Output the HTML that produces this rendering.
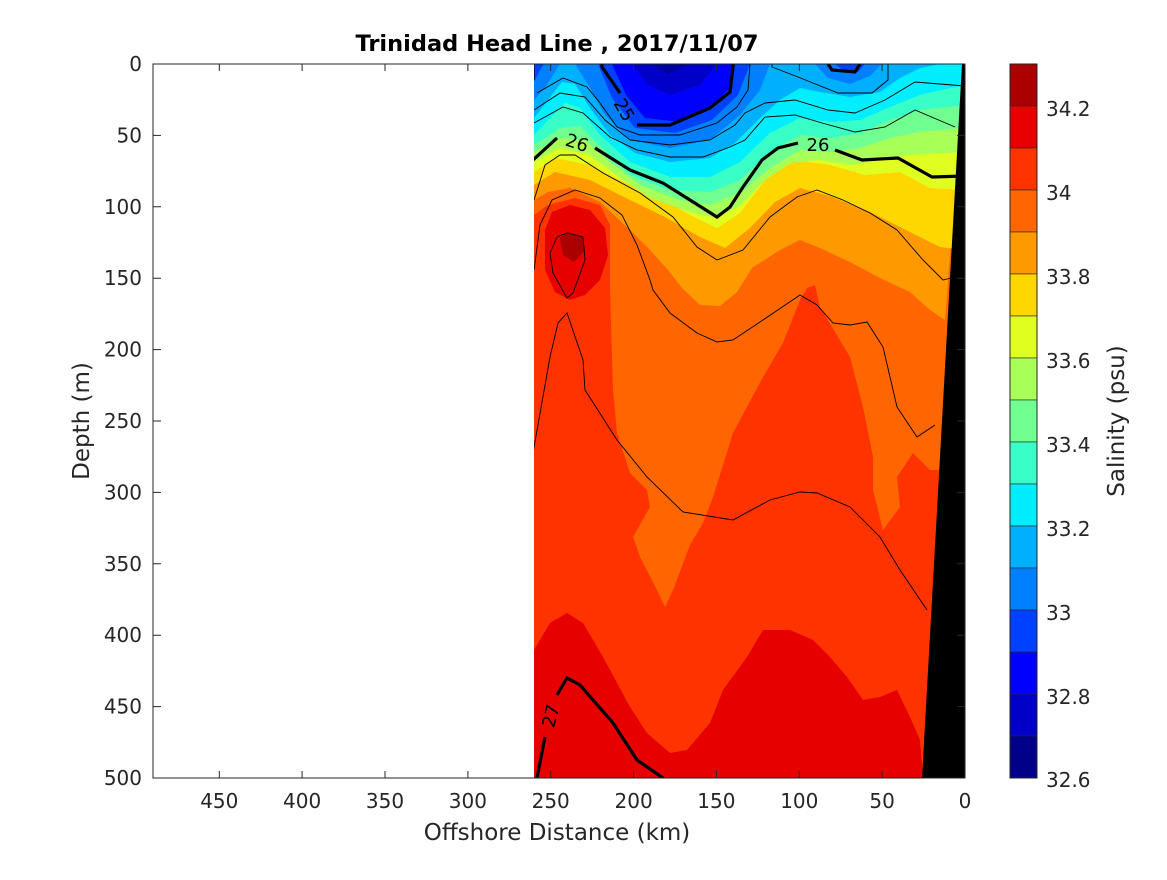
<!DOCTYPE html>
<html><head><meta charset="utf-8"><style>
body{margin:0;background:#fff}
text{font-family:"DejaVu Sans","Liberation Sans",sans-serif;fill:#262626}
</style></head><body>
<svg width="1167" height="875" xmlns="http://www.w3.org/2000/svg">
<rect width="1167" height="875" fill="#fff"/>
<defs><clipPath id="c"><rect x="534" y="64" width="431" height="714"/></clipPath></defs>
<g clip-path="url(#c)">
<rect x="534" y="64" width="431" height="714" fill="#ff3300"/>
<polygon fill="#ff6600" points="534,64 534,215 548,205 575,198 600,205 610,225 610,290 613,390 617,433 630,473 647,490 650,507 633,537 640,557 657,590 665,607 673,590 690,545 703,523 713,497 733,433 763,377 783,343 800,300 807,288 815,285 820,307 850,357 863,407 873,457 873,490 883,530 900,507 897,477 913,453 930,470 945,470 965,64"/>
<polygon fill="#e60000" points="534,778 534,650 550,623 567,613 583,623 603,657 630,707 647,733 670,753 687,750 710,723 723,690 747,657 763,630 790,630 813,640 830,657 847,677 863,700 880,697 897,690 910,717 920,740 923,778"/>
<polygon fill="#ff9900" points="534,64 534,200 548,192 570,188 600,202 630,230 650,250 668,270 682,288 700,305 720,306 737,292 752,268 780,250 800,240 820,248 850,262 880,278 910,292 930,310 945,320 965,64"/>
<polygon fill="#ffd700" points="534,64 534,185 555,172 590,180 630,200 665,217 700,237 725,248 750,228 775,202 800,188 830,196 870,212 910,232 940,247 965,250 965,64"/>
<polygon fill="#e0ff20" points="534,64 534,172 555,158 590,165 630,185 665,200 690,215 717,228 740,213 765,180 795,160 830,165 865,175 900,172 930,188 965,190 965,64"/>
<polygon fill="#a8ff58" points="534,64 534,162 560,148 590,155 620,178 650,198 690,212 715,218 740,206 765,180 790,163 820,160 850,165 880,160 910,155 965,152 965,64"/>
<polygon fill="#70ff90" points="534,64 534,152 560,138 585,140 610,162 640,185 680,200 710,205 740,193 770,168 800,150 830,152 860,148 890,138 920,132 965,128 965,64"/>
<polygon fill="#38ffc8" points="534,64 534,145 560,128 580,126 600,146 630,175 670,190 710,192 740,180 770,152 800,135 830,138 860,133 890,120 920,110 965,105 965,64"/>
<polygon fill="#00eeff" points="534,64 534,135 550,118 565,103 580,108 600,135 630,162 670,177 710,177 740,162 770,133 800,118 830,122 860,120 890,107 920,95 950,88 965,86 965,64"/>
<polygon fill="#00b0ff" points="534,64 534,118 548,100 562,82 575,84 590,108 610,135 635,153 670,162 710,158 735,143 760,118 780,100 800,88 820,92 850,97 880,92 900,78 920,68 940,64"/>
<polygon fill="#0080ff" points="534,64 534,100 545,88 555,72 560,64"/>
<polygon fill="#0080ff" points="575,64 590,88 605,115 630,140 670,148 710,140 740,115 760,90 770,64"/>
<polygon fill="#0080ff" points="815,64 828,78 850,84 870,76 882,64"/>
<polygon fill="#0040ff" points="534,64 534,82 540,70 544,64"/>
<polygon fill="#0040ff" points="598,64 612,98 635,128 675,133 712,120 738,95 750,64"/>
<polygon fill="#0040ff" points="835,64 845,72 858,72 865,64"/>
<polygon fill="#0000ff" points="612,64 626,95 645,118 680,122 710,108 730,88 735,64"/>
<polygon fill="#0000c8" points="632,64 648,85 670,95 700,85 716,64"/>
<polygon fill="#0000a0" points="652,64 668,74 690,64"/>
<polygon fill="#e60000" points="545,230 552,212 570,205 590,210 605,228 608,255 600,280 585,295 570,300 555,292 545,270"/>
<polygon fill="#aa0000" points="560,238 568,232 582,236 585,250 574,262 563,255"/>
<g fill="none" stroke="#000" stroke-width="0.9">
<polyline points="534,110 560,93 585,97 605,120 630,140 670,145 710,140 735,125 745,113 765,103 795,100 828,110 855,113 885,100 915,82 965,86"/>
<polyline points="537,93 563,78 587,87 600,103 617,127 640,135 680,135 717,123 737,107 748,90 750,64"/>
<polyline points="534,123 563,107 583,113 610,137 637,150 670,157 703,157 730,147 745,140 765,117 795,115 822,123 855,132 885,127 915,110 955,127"/>
<polyline points="772,64 772,67 798,77 838,93 872,93 888,80 888,64"/>
<polyline points="534,200 545,165 560,155 575,155 603,173 640,193 673,217 697,247 717,260 743,250 770,217 797,197 817,190 843,200 870,213 897,230 923,260 943,280 955,277"/>
<polyline points="534,270 540,225 552,200 575,190 600,198 622,215 637,245 650,280 653,290 670,313 697,333 717,342 733,340 763,320 800,295 817,305 833,323 850,325 867,322 883,347 897,407 917,437 935,425"/>
<polyline points="533,453 550,357 558,323 567,313 583,360 585,390 617,440 647,477 683,512 733,520 770,500 800,492 817,493 850,507 880,537 900,570 927,610"/>
<polygon points="567,233 583,237 585,260 573,293 567,298 553,273 550,253 557,237"/>
</g>
<g fill="none" stroke="#000" stroke-width="3.2">
<polyline points="533,160 557,138"/>
<polyline points="595,148 630,170 663,183 690,200 717,217 730,207 743,187 762,160 778,148 798,143"/>
<polyline points="835,150 862,160 898,158 932,177 965,176"/>
<polyline points="602,64 602,67 620,93"/>
<polyline points="637,125 670,125 710,108 730,92 733,67 733,64"/>
<polyline points="533,64 533,80"/>
<polyline points="537,778 545,737"/>
<polyline points="557,695 567,678 580,685 613,723 637,760 663,778"/>
<polyline points="828,64 832,70 855,72 860,64"/>
</g>
<text x="577" y="149" font-size="18" text-anchor="middle" transform="rotate(18 577 143)" style="fill:#000">26</text>
<text x="818" y="151" font-size="18" text-anchor="middle" style="fill:#000">26</text>
<text x="624" y="116" font-size="18" text-anchor="middle" transform="rotate(60 624 110)" style="fill:#000">25</text>
<text x="551" y="722" font-size="18" text-anchor="middle" transform="rotate(-75 551 716)" style="fill:#000">27</text>
<polygon fill="#000" points="962,64 965,64 965,778 922,778"/>
</g>
<rect x="153" y="64" width="812" height="714" fill="none" stroke="#262626" stroke-width="1"/>
<g stroke="#262626" stroke-width="1">
<path d="M965,778v-7M882.1,778v-7M799.3,778v-7M716.4,778v-7M633.6,778v-7M550.7,778v-7M467.9,778v-7M385,778v-7M302.1,778v-7M219.3,778v-7"/>
<path d="M965,64v7M882.1,64v7M799.3,64v7M716.4,64v7M633.6,64v7M550.7,64v7M467.9,64v7M385,64v7M302.1,64v7M219.3,64v7"/>
<path d="M153,64h8M153,135.4h8M153,206.8h8M153,278.2h8M153,349.6h8M153,421h8M153,492.4h8M153,563.8h8M153,635.2h8M153,706.6h8M153,778h8"/>
<path d="M965,135.4h-8M965,206.8h-8M965,278.2h-8M965,349.6h-8M965,421h-8M965,492.4h-8M965,563.8h-8M965,635.2h-8M965,706.6h-8"/>
</g>
<g font-size="20" text-anchor="middle">
<text x="965" y="808">0</text><text x="882.1" y="808">50</text><text x="799.3" y="808">100</text><text x="716.4" y="808">150</text><text x="633.6" y="808">200</text><text x="550.7" y="808">250</text><text x="467.9" y="808">300</text><text x="385" y="808">350</text><text x="302.1" y="808">400</text><text x="219.3" y="808">450</text>
</g>
<g font-size="20" text-anchor="end">
<text x="142" y="71">0</text><text x="142" y="142.4">50</text><text x="142" y="213.8">100</text><text x="142" y="285.2">150</text><text x="142" y="356.6">200</text><text x="142" y="428">250</text><text x="142" y="499.4">300</text><text x="142" y="570.8">350</text><text x="142" y="642.2">400</text><text x="142" y="713.6">450</text><text x="142" y="785">500</text>
</g>
<text x="557" y="51" font-size="22.5" font-weight="bold" text-anchor="middle" style="fill:#000">Trinidad Head Line , 2017/11/07</text>
<text x="557" y="840" font-size="23" text-anchor="middle">Offshore Distance (km)</text>
<text x="0" y="0" font-size="23" text-anchor="middle" transform="translate(89 421) rotate(-90)">Depth (m)</text>
<g stroke="#262626" stroke-width="0.6">
<rect x="1010" y="64" width="27" height="42" fill="#aa0000"/>
<rect x="1010" y="106" width="27" height="42" fill="#e80000"/>
<rect x="1010" y="148" width="27" height="42" fill="#ff3300"/>
<rect x="1010" y="190" width="27" height="42" fill="#ff6600"/>
<rect x="1010" y="232" width="27" height="42" fill="#ff9900"/>
<rect x="1010" y="274" width="27" height="42" fill="#ffd700"/>
<rect x="1010" y="316" width="27" height="42" fill="#e0ff20"/>
<rect x="1010" y="358" width="27" height="42" fill="#a8ff58"/>
<rect x="1010" y="400" width="27" height="42" fill="#70ff90"/>
<rect x="1010" y="442" width="27" height="42" fill="#38ffc8"/>
<rect x="1010" y="484" width="27" height="42" fill="#00eeff"/>
<rect x="1010" y="526" width="27" height="42" fill="#00b0ff"/>
<rect x="1010" y="568" width="27" height="42" fill="#0080ff"/>
<rect x="1010" y="610" width="27" height="42" fill="#0040ff"/>
<rect x="1010" y="652" width="27" height="42" fill="#0000ff"/>
<rect x="1010" y="694" width="27" height="42" fill="#0000c8"/>
<rect x="1010" y="736" width="27" height="42" fill="#000088"/>
</g>
<rect x="1010" y="64" width="27" height="714" fill="none" stroke="#262626" stroke-width="1"/>
<g font-size="20">
<text x="1046" y="116">34.2</text><text x="1046" y="200">34</text><text x="1046" y="284">33.8</text><text x="1046" y="368">33.6</text><text x="1046" y="452">33.4</text><text x="1046" y="536">33.2</text><text x="1046" y="620">33</text><text x="1046" y="704">32.8</text><text x="1046" y="787">32.6</text>
</g>
<text x="0" y="0" font-size="23" text-anchor="middle" transform="translate(1124 421) rotate(-90)">Salinity (psu)</text>
</svg>
</body></html>
